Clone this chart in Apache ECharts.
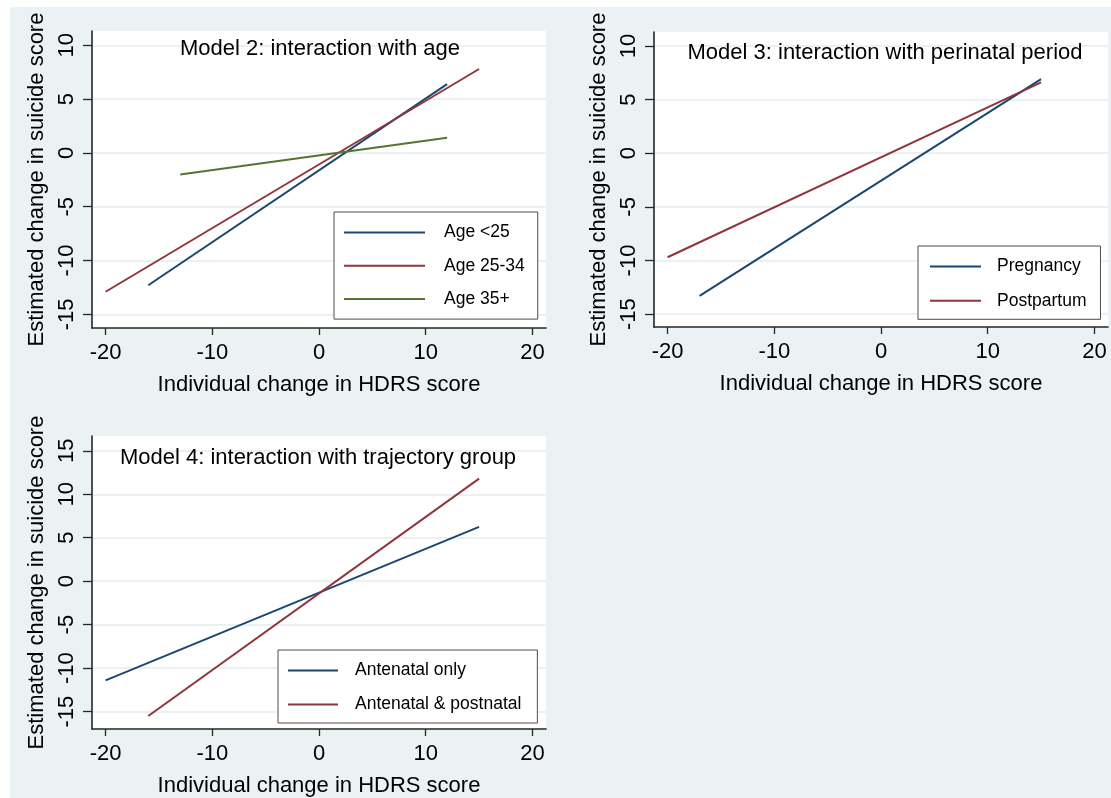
<!DOCTYPE html>
<html>
<head>
<meta charset="utf-8">
<title>Estimated change in suicide score by HDRS change</title>
<script src="https://cdn.jsdelivr.net/npm/echarts@6/dist/echarts.min.js"></script>
<style>
  html, body { margin: 0; padding: 0; background: #ffffff; }
  #chart { width: 1111px; height: 798px; }
</style>
</head>
<body>
<div id="chart"></div>
<script>
// Tick positions
const xTicks = [-20, -10, 0, 10, 20];
const yTicksTop = [-15, -10, -5, 0, 5, 10];
const yTicksBottom = [-15, -10, -5, 0, 5, 10, 15];

// Model 2: interaction with age  [HDRS change, estimated suicide change]
const ageUnder25 = [[-16, -12.3], [12, 6.4]];
const age25to34 = [[-20, -12.9], [15, 7.8]];
const age35plus = [[-13, -2.0], [12, 1.4]];

// Model 3: interaction with perinatal period
const pregnancy = [[-17, -13.3], [15, 6.9]];
const postpartum = [[-20, -9.7], [15, 6.6]];

// Model 4: interaction with trajectory group
const antenatalOnly = [[-20, -11.4], [15, 6.25]];
const antenatalPostnatal = [[-16, -15.5], [15, 11.8]];

const panelTitles = [
  'Model 2: interaction with age',
  'Model 3: interaction with perinatal period',
  'Model 4: interaction with trajectory group'
];
const xName = 'Individual change in HDRS score';
const yName = 'Estimated change in suicide score';

const FONT = '"Liberation Sans", Arial, sans-serif';
const NAVY = '#1a476f';
const MAROON = '#90353b';
const GREEN = '#55752f';
const BG = '#eaf2f3';
const GRIDLINE = '#e3edef';
const AXIS = '#262626';

const chart = echarts.init(document.getElementById('chart'), null, { renderer: 'canvas' });

function xAxisFor(gridIndex) {
  return {
    type: 'value', gridIndex,
    min: -21.27, max: 21.27,
    name: xName, nameLocation: 'middle', nameGap: 46,
    nameTextStyle: { fontFamily: FONT, fontSize: 22, color: '#000' },
    axisLine: { show: true, onZero: false, lineStyle: { color: AXIS, width: 1.6 } },
    axisTick: { show: true, length: 7, customValues: xTicks, lineStyle: { color: AXIS, width: 1.3 } },
    axisLabel: { customValues: xTicks, margin: 14, fontFamily: FONT, fontSize: 22, color: '#000' },
    splitLine: { show: false }
  };
}

function yAxisFor(gridIndex, min, max, ticks) {
  return {
    type: 'value', gridIndex,
    min, max,
    name: yName, nameLocation: 'middle', nameGap: 44,
    nameTextStyle: { fontFamily: FONT, fontSize: 22, color: '#000' },
    axisLine: { show: true, onZero: false, lineStyle: { color: AXIS, width: 1.6 } },
    axisTick: { show: true, length: 9, customValues: ticks, lineStyle: { color: AXIS, width: 1.3 } },
    axisLabel: { customValues: ticks, rotate: 90, margin: 14, fontFamily: FONT, fontSize: 22, color: '#000' },
    splitLine: { show: true, lineStyle: { color: GRIDLINE, width: 1.6 } }
  };
}

function legendFor(names, left, top, itemWidth, textGap, gap, padding) {
  return {
    data: names,
    orient: 'vertical',
    left, top,
    icon: 'rect',
    itemWidth, itemHeight: 2,
    itemGap: gap,
    padding,
    backgroundColor: '#ffffff',
    borderColor: '#4d4d4d',
    borderWidth: 1,
    borderRadius: 0,
    selectedMode: false,
    textStyle: { fontFamily: FONT, fontSize: 17.5, color: '#000', lineHeight: 20, padding: [0, 0, 0, textGap] }
  };
}

function lineSeries(name, data, color, idx) {
  return {
    name, type: 'line', data,
    xAxisIndex: idx, yAxisIndex: idx,
    showSymbol: false, symbol: 'none',
    lineStyle: { color, width: 2 },
    itemStyle: { color },
    animation: false
  };
}

const titleStyle = { fontFamily: FONT, fontSize: 22, fontWeight: 'normal', color: '#000', lineHeight: 22 };

const option = {
  animation: false,
  backgroundColor: '#ffffff',
  graphic: [{
    type: 'rect', z: -10, silent: true,
    shape: { x: 10, y: 7, width: 1101, height: 791 },
    style: { fill: BG }
  }],
  title: [
    { text: panelTitles[0], left: 320, top: 38, textAlign: 'center', padding: 0, textStyle: titleStyle },
    { text: panelTitles[1], left: 885, top: 42, textAlign: 'center', padding: 0, textStyle: titleStyle },
    { text: panelTitles[2], left: 318, top: 447, textAlign: 'center', padding: 0, textStyle: titleStyle }
  ],
  grid: [
    { left: 92, top: 31, width: 454, height: 297, show: true, backgroundColor: '#ffffff', borderWidth: 0 },
    { left: 654, top: 32, width: 454, height: 295, show: true, backgroundColor: '#ffffff', borderWidth: 0 },
    { left: 92, top: 436, width: 454, height: 296, show: true, backgroundColor: '#ffffff', borderWidth: 0 }
  ],
  xAxis: [xAxisFor(0), xAxisFor(1), xAxisFor(2)],
  yAxis: [
    yAxisFor(0, -16.27, 11.33, yTicksTop),
    yAxisFor(1, -16.2, 11.3, yTicksTop),
    yAxisFor(2, -17.0, 16.7, yTicksBottom)
  ],
  legend: [
    legendFor(['Age <25', 'Age 25-34', 'Age 35+'], 334, 212, 81, 14, 13.3, [10.5, 13, 10, 10]),
    legendFor(['Pregnancy', 'Postpartum'], 918, 246, 51, 11, 14.3, [10.5, 14, 8.5, 12]),
    legendFor(['Antenatal only', 'Antenatal & postnatal'], 278, 650, 50, 12, 14, [10.5, 16, 8.5, 10])
  ],
  series: [
    lineSeries('Age <25', ageUnder25, NAVY, 0),
    lineSeries('Age 25-34', age25to34, MAROON, 0),
    lineSeries('Age 35+', age35plus, GREEN, 0),
    lineSeries('Pregnancy', pregnancy, NAVY, 1),
    lineSeries('Postpartum', postpartum, MAROON, 1),
    lineSeries('Antenatal only', antenatalOnly, NAVY, 2),
    lineSeries('Antenatal & postnatal', antenatalPostnatal, MAROON, 2)
  ]
};

chart.setOption(option);
</script>
</body>
</html>
